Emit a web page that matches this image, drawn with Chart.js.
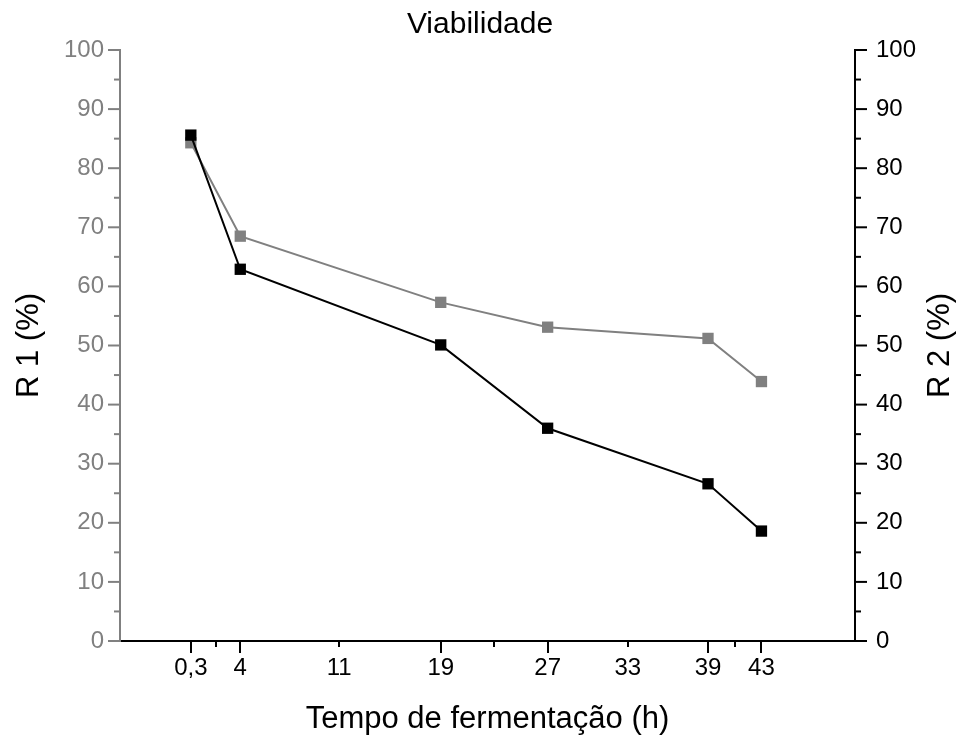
<!DOCTYPE html>
<html>
<head>
<meta charset="utf-8">
<script src="https://cdn.jsdelivr.net/npm/chart.js@4.4.0/dist/chart.umd.min.js"></script>
<style>
    html, body { margin: 0; padding: 0; background: #fff; }
</style>
</head>
<body>
<canvas id="viabChart" width="960" height="738"></canvas>
<script>
// Dados
const tempos = [0.3, 4, 19, 27, 39, 43];
const r1Values = [84.3, 68.5, 57.3, 53.1, 51.2, 43.9];
const r2Values = [85.6, 62.9, 50.1, 36.0, 26.6, 18.6];

// Marcas do eixo x (maiores, menores) e rótulos
const xMajorTicks = [0.3, 4, 19, 27, 39, 43];
const xMinorTicks = [2.2, 11.4, 23, 33, 41];
const xLabelValues = [0.3, 4, 11.4, 19, 27, 33, 39, 43];
const xLabelTexts = ['0,3', '4', '11', '19', '27', '33', '39', '43'];

const GRAY = '#808080';
const FONT = "'Liberation Sans', Arial, sans-serif";

// Desenha as marcas (ticks) para fora dos eixos, estilo Origin
const tickMarks = {
    id: 'tickMarks',
    afterDraw(chart) {
        const ctx = chart.ctx;
        const x = chart.scales.x, y1 = chart.scales.y1, y2 = chart.scales.y2;
        ctx.save();
        ctx.lineWidth = 2;

        function hLine(px, py, len) {
            ctx.beginPath();
            ctx.moveTo(px, py);
            ctx.lineTo(px + len, py);
            ctx.stroke();
        }

        for (let v = 0; v <= 100; v += 5) {
            const len = v % 10 === 0 ? 12 : 6;
            ctx.strokeStyle = GRAY;
            hLine(y1.left + y1.width, y1.getPixelForValue(v), -len);
            ctx.strokeStyle = '#000';
            hLine(y2.left, y2.getPixelForValue(v), len);
        }

        ctx.strokeStyle = '#000';
        const drawX = (v, len) => {
            const px = Math.round(x.getPixelForValue(v));
            ctx.beginPath();
            ctx.moveTo(px, x.top);
            ctx.lineTo(px, x.top + len);
            ctx.stroke();
        };
        xMajorTicks.forEach(v => drawX(v, 12));
        xMinorTicks.forEach(v => drawX(v, 6));

        // Título do eixo direito, lido de baixo para cima
        ctx.fillStyle = '#000';
        ctx.font = '31px ' + FONT;
        ctx.textAlign = 'center';
        ctx.textBaseline = 'middle';
        ctx.translate(940, (y2.top + y2.bottom) / 2);
        ctx.rotate(-Math.PI / 2);
        ctx.fillText('R 2 (%)', 0, 0);
        ctx.restore();
    }
};

const ctx = document.getElementById('viabChart').getContext('2d');
const viabChart = new Chart(ctx, {
    type: 'line',
    data: {
        datasets: [
            {
                label: 'R 2',
                data: tempos.map((t, i) => ({ x: t, y: r2Values[i] })),
                yAxisID: 'y2',
                borderColor: '#000',
                backgroundColor: '#000',
                borderWidth: 2,
                pointStyle: 'rect',
                pointRadius: 8,
                pointBorderWidth: 0,
                tension: 0
            },
            {
                label: 'R 1',
                data: tempos.map((t, i) => ({ x: t, y: r1Values[i] })),
                yAxisID: 'y1',
                borderColor: GRAY,
                backgroundColor: GRAY,
                borderWidth: 2,
                pointStyle: 'rect',
                pointRadius: 8,
                pointBorderWidth: 0,
                tension: 0
            }
        ]
    },
    options: {
        responsive: false,
        animation: false,
        layout: { padding: 0 },
        scales: {
            x: {
                type: 'linear',
                min: -5,
                max: 50,
                afterBuildTicks: (scale) => {
                    scale.ticks = xLabelValues.map(v => ({ value: v }));
                },
                afterFit: (scale) => { scale.height = 97; },
                grid: { drawOnChartArea: false, drawTicks: false },
                border: { color: '#000', width: 2 },
                ticks: {
                    autoSkip: false,
                    maxRotation: 0,
                    padding: 13,
                    color: '#000',
                    font: { family: FONT, size: 24 },
                    callback: (val) => xLabelTexts[xLabelValues.indexOf(val)]
                },
                title: {
                    display: true,
                    text: 'Tempo de fermentação (h)',
                    color: '#000',
                    font: { family: FONT, size: 31 },
                    padding: { top: 0, bottom: 0 }
                }
            },
            y1: {
                position: 'left',
                min: 0,
                max: 100,
                afterFit: (scale) => { scale.width = 120; },
                grid: { drawOnChartArea: false, drawTicks: false },
                border: { color: GRAY, width: 2 },
                ticks: {
                    stepSize: 10,
                    padding: 16,
                    color: GRAY,
                    font: { family: FONT, size: 24 }
                },
                title: {
                    display: true,
                    text: 'R 1 (%)',
                    color: '#000',
                    font: { family: FONT, size: 31 },
                    padding: { top: 11, bottom: 0 }
                }
            },
            y2: {
                position: 'right',
                min: 0,
                max: 100,
                afterFit: (scale) => { scale.width = 105; },
                grid: { drawOnChartArea: false, drawTicks: false },
                border: { color: '#000', width: 2 },
                ticks: {
                    stepSize: 10,
                    padding: 21,
                    color: '#000',
                    font: { family: FONT, size: 24 }
                }
            }
        },
        plugins: {
            legend: { display: false },
            tooltip: { enabled: false },
            title: {
                display: true,
                text: 'Viabilidade',
                color: '#000',
                font: { family: FONT, size: 30, weight: 'normal' },
                padding: { top: 7, bottom: 7 }
            }
        }
    },
    plugins: [tickMarks]
});
</script>
</body>
</html>
